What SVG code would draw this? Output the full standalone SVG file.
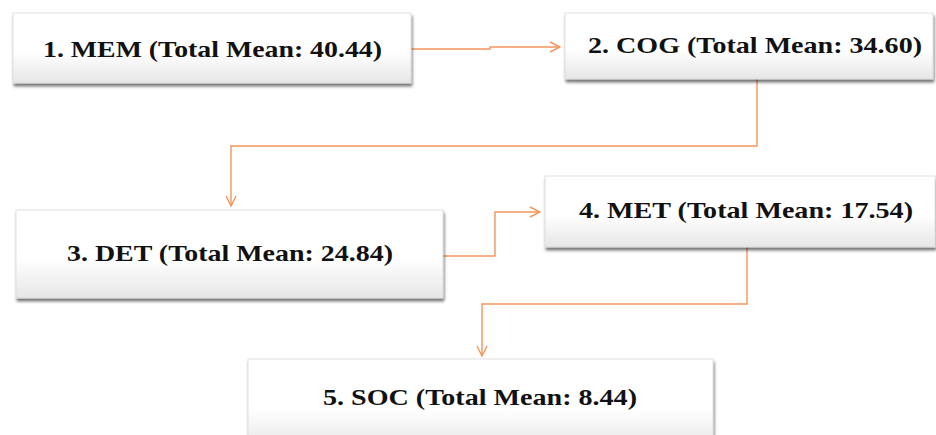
<svg xmlns="http://www.w3.org/2000/svg" width="936" height="435" viewBox="0 0 936 435">
<defs>
<linearGradient id="g" x1="0" y1="0" x2="0" y2="1">
<stop offset="0" stop-color="#ffffff"/>
<stop offset="0.55" stop-color="#ffffff"/>
<stop offset="1" stop-color="#e6e6e6"/>
</linearGradient>
<filter id="sh" x="-5%" y="-10%" width="110%" height="130%">
<feGaussianBlur in="SourceAlpha" stdDeviation="1.8"/>
<feOffset dx="1" dy="3" result="b"/>
<feComponentTransfer><feFuncA type="linear" slope="0.55"/></feComponentTransfer>
<feMerge><feMergeNode/><feMergeNode in="SourceGraphic"/></feMerge>
</filter>
<marker id="ar" viewBox="0 0 12 12" refX="11" refY="6" markerWidth="12" markerHeight="12" markerUnits="userSpaceOnUse" orient="auto">
<path d="M1,1 L11,6 L1,11" fill="none" stroke="#F29559" stroke-width="1.4"/>
</marker>
<style>
.box{fill:url(#g);stroke:#d9d9d9;stroke-width:0.8;filter:url(#sh)}
.lbl{font-weight:700;font-size:23px;fill:#111}
.c{fill:none;stroke:#F29559;stroke-width:1.4;marker-end:url(#ar)}
</style>
</defs>
<rect width="936" height="435" fill="#ffffff"/>
<g id="connectors">
<path class="c" d="M411,49 H490 V47 H560"/>
<path class="c" d="M757,79 V146 H231 V206"/>
<path class="c" d="M443,256 H495 V212 H540"/>
<path class="c" d="M747,247 V304 H482 V356"/>
</g>
<g id="n1"><rect class="box" x="13" y="13" width="398" height="70"/><text class="lbl" x="43" y="57" font-family="Liberation Serif, serif" textLength="339" lengthAdjust="spacingAndGlyphs">1. MEM (Total Mean: 40.44)</text></g>
<g id="n2"><rect class="box" x="565" y="13" width="368" height="66"/><text class="lbl" x="588" y="53" font-family="Liberation Serif, serif" textLength="334" lengthAdjust="spacingAndGlyphs">2. COG (Total Mean: 34.60)</text></g>
<g id="n3"><rect class="box" x="16" y="210" width="427" height="88"/><text class="lbl" x="67" y="261" font-family="Liberation Serif, serif" textLength="326" lengthAdjust="spacingAndGlyphs">3. DET (Total Mean: 24.84)</text></g>
<g id="n4"><rect class="box" x="545" y="176" width="390" height="71"/><text class="lbl" x="579" y="218" font-family="Liberation Serif, serif" textLength="334" lengthAdjust="spacingAndGlyphs">4. MET (Total Mean: 17.54)</text></g>
<g id="n5"><rect class="box" x="248" y="359" width="465" height="90"/><text class="lbl" x="323" y="405" font-family="Liberation Serif, serif" textLength="314" lengthAdjust="spacingAndGlyphs">5. SOC (Total Mean: 8.44)</text></g>
</svg>
